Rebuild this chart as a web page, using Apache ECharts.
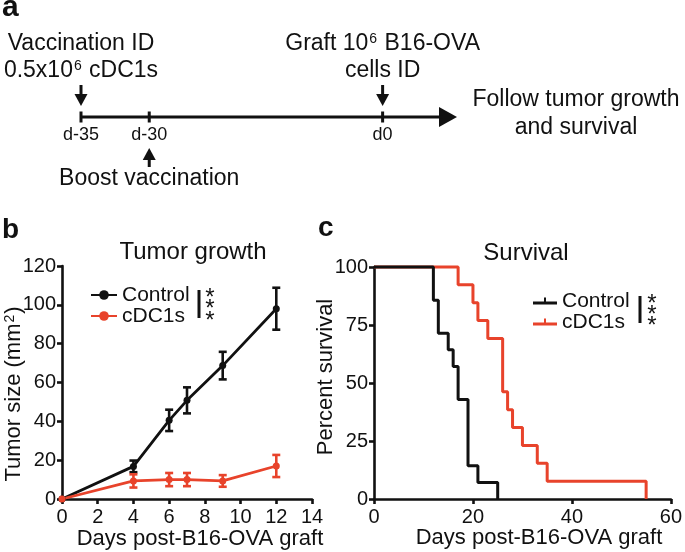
<!DOCTYPE html>
<html><head><meta charset="utf-8">
<script src="https://cdn.jsdelivr.net/npm/echarts@6/dist/echarts.min.js"></script>
<style>html,body{margin:0;padding:0;background:#fff}#c{width:685px;height:552px}</style>
</head><body><div id="c"></div>
<script>
const FONT = '"Liberation Sans", Arial, Helvetica, sans-serif';
const BLACK = '#111111';
const RED = '#e8432b';

// ---- Panel a: schematic timeline (positions are schematic, not to scale) ----
const timelineLabels = ['d-35', 'd-30', 'd0'];
const timelinePos = [0, 1, 4.42];
const timelineEnd = 5.51;
const topNotes = [['Vaccination ID', '0.5x10{sup|6} cDC1s'], [], ['Graft 10{sup|6} B16-OVA', 'cells ID']];
const bottomNotes = ['', 'Boost vaccination', ''];
const endNote = ['Follow tumor growth', 'and survival'];

// ---- Panel b: tumor growth (mean ± SEM) ----
const growthDays = [0, 4, 6, 7, 9, 12];
const growthControl = [0, 16.8, 40.5, 50.8, 68.7, 98.0];
const growthControlSem = [0, 3.0, 5.5, 6.7, 7.1, 10.8];
const growthCdc1 = [0, 9.3, 10.0, 10.0, 9.3, 17.0];
const growthCdc1Sem = [0, 3.4, 3.4, 3.4, 3.0, 5.7];
const growthXTicks = {min: 0, max: 14, interval: 2};
const growthYTicks = {min: 0, max: 120, interval: 20};

// ---- Panel c: survival (Kaplan-Meier) ----
const survControlDays = [0, 12, 13, 15, 16, 17, 19, 21, 25];
const survControl = [100, 85.7, 71.4, 64.3, 57.1, 42.9, 14.3, 7.1, 0];
const survCdc1Days = [0, 17, 20, 21, 23, 26, 27, 28, 30, 33, 35, 55];
const survCdc1 = [100, 92.3, 84.6, 76.9, 69.2, 46.2, 38.5, 30.8, 23.1, 15.4, 7.7, 0];
const survXTicks = {min: 0, max: 60, interval: 20};
const survYTicks = {min: 0, max: 100, interval: 25};

const seriesNames = ['Control', 'cDC1s'];

const chart = echarts.init(document.getElementById('c'), null, {renderer: 'canvas'});

const supRich = {sup: {fontSize: 14, fontFamily: FONT, verticalAlign: 'top', fill: BLACK, padding: [0, 1, 0, 1]}};

function txt(text, x, y, size, opts) {
  opts = opts || {};
  return {
    type: 'text', x: x, y: y, rotation: opts.rotation || 0,
    style: {
      text: text, fontSize: size, fontFamily: FONT, fontWeight: opts.bold ? 'bold' : 'normal',
      fill: BLACK, align: opts.align || 'center', verticalAlign: 'middle', rich: supRich
    }
  };
}

function axisCommon(ticks, gridIndex, isX) {
  return {
    type: 'value', gridIndex: gridIndex, min: ticks.min, max: ticks.max, interval: ticks.interval,
    axisLine: {show: true, onZero: false, lineStyle: {color: BLACK, width: 2.6}},
    axisTick: {show: true, length: 5, lineStyle: {color: BLACK, width: 2.6}},
    splitLine: {show: false},
    axisLabel: {fontSize: 20, fontFamily: FONT, color: BLACK, margin: isX ? 8 : 6}
  };
}

function errorSeries(days, mean, sem, color, xi) {
  return {
    type: 'custom', xAxisIndex: xi, yAxisIndex: xi, z: 4, silent: true,
    data: days.map((d, i) => [d, mean[i] - sem[i], mean[i] + sem[i], sem[i]]),
    renderItem: function (params, api) {
      if (api.value(3) <= 0) return null;
      const lo = api.coord([api.value(0), api.value(1)]);
      const hi = api.coord([api.value(0), api.value(2)]);
      const st = {stroke: color, lineWidth: 2.6};
      return {
        type: 'group', children: [
          {type: 'line', shape: {x1: lo[0], y1: lo[1], x2: hi[0], y2: hi[1]}, style: st},
          {type: 'line', shape: {x1: lo[0] - 4, y1: lo[1], x2: lo[0] + 4, y2: lo[1]}, style: st},
          {type: 'line', shape: {x1: hi[0] - 4, y1: hi[1], x2: hi[0] + 4, y2: hi[1]}, style: st}
        ]
      };
    }
  };
}

function arrow(x, yTail, yTip) {
  const dir = yTip > yTail ? 1 : -1;
  const headBase = yTip - dir * 12;
  return [
    {type: 'rect', shape: {x: x - 1.5, y: Math.min(yTail, headBase), width: 3, height: Math.abs(headBase - yTail)}, style: {fill: BLACK}},
    {type: 'polygon', shape: {points: [[x - 6.5, headBase], [x + 6.5, headBase], [x, yTip]]}, style: {fill: BLACK}}
  ];
}

const option = {
  animation: false,
  backgroundColor: '#ffffff',
  grid: [
    {left: 62, top: 266, width: 250, height: 233},
    {left: 374, top: 267, width: 299, height: 232},
    {left: 81, top: 17, width: 376, height: 200}
  ],
  xAxis: [
    axisCommon(growthXTicks, 0, true),
    axisCommon(survXTicks, 1, true),
    {type: 'value', gridIndex: 2, min: 0, max: timelineEnd, show: false}
  ],
  yAxis: [
    axisCommon(growthYTicks, 0, false),
    axisCommon(survYTicks, 1, false),
    {type: 'value', gridIndex: 2, min: -1, max: 1, show: false}
  ],
  legend: [
    {
      data: seriesNames, orient: 'vertical', left: 90, top: 284.5, padding: 0, itemWidth: 26, itemHeight: 12,
      itemGap: 0, selectedMode: false,
      textStyle: {fontSize: 21, fontFamily: FONT, color: BLACK, lineHeight: 21}
    },
    {
      data: [
        {name: seriesNames[0], icon: 'path://M0,4 L24,4 L24,7 L0,7 Z M11,0 L13,0 L13,4 L11,4 Z'},
        {name: seriesNames[1], icon: 'path://M0,4 L24,4 L24,7 L0,7 Z M11,0 L13,0 L13,4 L11,4 Z'}
      ],
      orient: 'vertical', left: 533, top: 290.5, padding: 0, itemWidth: 24, itemHeight: 7,
      itemGap: 0, selectedMode: false,
      textStyle: {fontSize: 21, fontFamily: FONT, color: BLACK, lineHeight: 19}
    }
  ],
  series: [
    // Panel b
    {
      type: 'line', name: seriesNames[0], xAxisIndex: 0, yAxisIndex: 0, z: 3, clip: false,
      data: growthDays.map((d, i) => [d, growthControl[i]]),
      symbol: 'circle', symbolSize: 7, showSymbol: true,
      lineStyle: {color: BLACK, width: 2.8}, itemStyle: {color: BLACK}
    },
    {
      type: 'line', name: seriesNames[1], xAxisIndex: 0, yAxisIndex: 0, z: 3, clip: false,
      data: growthDays.map((d, i) => [d, growthCdc1[i]]),
      symbol: 'circle', symbolSize: 7, showSymbol: true,
      lineStyle: {color: RED, width: 2.8}, itemStyle: {color: RED}
    },
    errorSeries(growthDays, growthControl, growthControlSem, BLACK, 0),
    errorSeries(growthDays, growthCdc1, growthCdc1Sem, RED, 0),
    // Panel c
    {
      type: 'line', name: seriesNames[1], xAxisIndex: 1, yAxisIndex: 1, z: 2, clip: false,
      step: 'end', symbol: 'none',
      data: survCdc1Days.map((d, i) => [d, survCdc1[i]]),
      lineStyle: {color: RED, width: 3}, itemStyle: {color: RED}
    },
    {
      type: 'line', name: seriesNames[0], xAxisIndex: 1, yAxisIndex: 1, z: 3, clip: false,
      step: 'end', symbol: 'none',
      data: survControlDays.map((d, i) => [d, survControl[i]]),
      lineStyle: {color: BLACK, width: 3}, itemStyle: {color: BLACK}
    },
    // Panel a: timeline shaft
    {
      type: 'line', xAxisIndex: 2, yAxisIndex: 2, symbol: 'none', silent: true,
      data: [[timelinePos[0], 0], [timelineEnd - 0.2, 0]],
      lineStyle: {color: BLACK, width: 3}
    },
    // Panel a: events
    {
      type: 'custom', xAxisIndex: 2, yAxisIndex: 2, silent: true,
      data: timelinePos.map((p, i) => [p, 0, i]),
      renderItem: function (params, api) {
        const i = api.value(2);
        const pt = api.coord([api.value(0), api.value(1)]);
        const x = pt[0], y = pt[1];
        let children = [
          {type: 'rect', shape: {x: x - 1.5, y: y - 5.5, width: 3, height: 11}, style: {fill: BLACK}},
          txt(timelineLabels[i], x, y + 18.5, 18)
        ];
        if (topNotes[i].length) {
          children = children.concat(arrow(x, y - 32, y - 11));
          children.push(txt(topNotes[i][0], x, y - 73.3, 23));
          children.push(txt(topNotes[i][1], x, y - 46.5, 23));
        }
        if (bottomNotes[i]) {
          children = children.concat(arrow(x, y + 50, y + 31));
          children.push(txt(bottomNotes[i], x, y + 62, 23));
        }
        return {type: 'group', children: children};
      }
    },
    // Panel a: arrow head + end note
    {
      type: 'custom', xAxisIndex: 2, yAxisIndex: 2, silent: true,
      data: [[timelineEnd, 0]],
      renderItem: function (params, api) {
        const pt = api.coord([api.value(0), api.value(1)]);
        const x = pt[0], y = pt[1];
        return {
          type: 'group', children: [
            {type: 'polygon', shape: {points: [[x - 18, y - 10], [x - 18, y + 10], [x, y]]}, style: {fill: BLACK}},
            txt(endNote[0], x + 119, y - 17, 23),
            txt(endNote[1], x + 119, y + 11, 23)
          ]
        };
      }
    }
  ],
  graphic: {
    elements: [
      txt('a', 2, 8, 30, {bold: true, align: 'left'}),
      txt('b', 2, 230, 28, {bold: true, align: 'left'}),
      txt('c', 318, 228.5, 28, {bold: true, align: 'left'}),
      txt('Tumor growth', 193, 252.7, 24),
      txt('Survival', 526, 253.7, 24),
      txt('Days post-B16-OVA graft', 200, 539, 22),
      txt('Days post-B16-OVA graft', 539, 537.5, 22),
      txt('Tumor size (mm{sup|2})', 14, 394, 22, {rotation: Math.PI / 2}),
      txt('Percent survival', 326, 377, 22, {rotation: Math.PI / 2}),
      // significance marks
      {type: 'rect', shape: {x: 197.5, y: 290, width: 3, height: 28}, style: {fill: BLACK}},
      txt('*', 210, 298, 24), txt('*', 210, 309.5, 24), txt('*', 210, 321, 24),
      {type: 'rect', shape: {x: 638.5, y: 296, width: 3, height: 27}, style: {fill: BLACK}},
      txt('*', 652, 304, 24), txt('*', 652, 315.5, 24), txt('*', 652, 326.5, 24)
    ]
  }
};
chart.setOption(option);
</script>
</body></html>
